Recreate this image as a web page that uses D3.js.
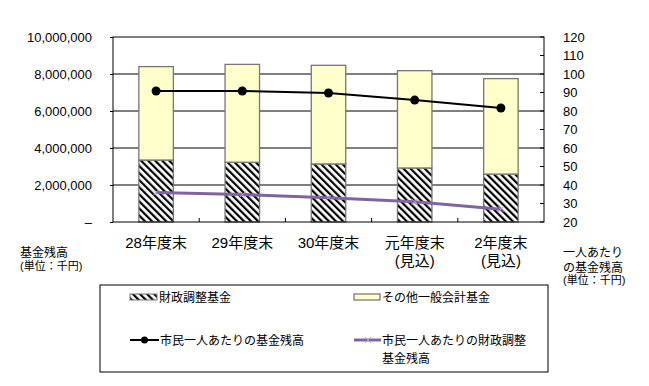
<!DOCTYPE html>
<html>
<head>
<meta charset="utf-8">
<script src="https://cdn.jsdelivr.net/npm/d3@7"></script>
<style>
  body { margin: 0; background: #fff; }
  svg { font-family: "Liberation Sans", "Noto Sans CJK JP", sans-serif; }
</style>
</head>
<body>
<svg width="649" height="386"></svg>
<script>
// data
var categories = ["28年度末", "29年度末", "30年度末", "元年度末|(見込)", "2年度末|(見込)"];
var adjustFund = [3350000, 3230000, 3140000, 2920000, 2590000];   // 財政調整基金
var otherFund = [5050000, 5290000, 5330000, 5260000, 5160000];    // その他一般会計基金
var perCapita = [90.8, 90.8, 89.7, 85.9, 81.6];                   // 市民一人あたりの基金残高
var perCapitaAdjust = [36.0, 34.8, 33.1, 31.0, 26.9];             // 市民一人あたりの財政調整基金残高
var leftTicks = [0, 2000000, 4000000, 6000000, 8000000, 10000000];
var rightTicks = [20, 30, 40, 50, 60, 70, 80, 90, 100, 110, 120];

var svg = d3.select("svg");
var pLeft = 113, pRight = 544, pTop = 37, pBottom = 222;

var defs = svg.append("defs");
var pat = defs.append("pattern").attr("id", "hatch")
  .attr("patternUnits", "userSpaceOnUse")
  .attr("width", 5).attr("height", 5)
  .attr("patternTransform", "rotate(-45)");
pat.append("rect").attr("width", 5).attr("height", 5).attr("fill", "#fff");
pat.append("rect").attr("width", 2.2).attr("height", 5).attr("fill", "#000");

var x = d3.scaleBand().domain(categories).range([pLeft, pRight]).paddingInner(0.6).paddingOuter(0.3);
var y = d3.scaleLinear().domain([0, 10000000]).range([pBottom, pTop]);
var y2 = d3.scaleLinear().domain([20, 120]).range([pBottom, pTop]);

// gridlines
svg.append("g").selectAll("line").data(leftTicks.slice(1, -1)).enter().append("line")
  .attr("x1", pLeft).attr("x2", pRight)
  .attr("y1", function(d) { return y(d); }).attr("y2", function(d) { return y(d); })
  .attr("stroke", "#000").attr("stroke-width", 1);

// bars
var bars = svg.append("g");
categories.forEach(function(c, i) {
  bars.append("rect")
    .attr("x", x(c)).attr("width", x.bandwidth())
    .attr("y", y(adjustFund[i])).attr("height", y(0) - y(adjustFund[i]))
    .attr("fill", "url(#hatch)").attr("stroke", "#777").attr("stroke-width", 1.3);
  bars.append("rect")
    .attr("x", x(c)).attr("width", x.bandwidth())
    .attr("y", y(adjustFund[i] + otherFund[i])).attr("height", y(adjustFund[i]) - y(adjustFund[i] + otherFund[i]))
    .attr("fill", "#ffffcc").attr("stroke", "#777").attr("stroke-width", 1.3);
});

// plot border
svg.append("rect").attr("x", pLeft).attr("y", pTop).attr("width", pRight - pLeft).attr("height", pBottom - pTop)
  .attr("fill", "none").attr("stroke", "#000").attr("stroke-width", 1);

// left axis
var yAxis = svg.append("g").attr("transform", "translate(" + pLeft + ",0)")
  .call(d3.axisLeft(y).tickValues(leftTicks).tickSize(3).tickPadding(18)
    .tickFormat(function(d) { return d === 0 ? "–" : d3.format(",")(d); }));
yAxis.select(".domain").remove();
yAxis.selectAll("text").attr("font-size", 13).attr("fill", "#000");

// right axis
var y2Axis = svg.append("g").attr("transform", "translate(" + pRight + ",0)")
  .call(d3.axisRight(y2).tickValues(rightTicks).tickSize(0).tickPadding(19));
y2Axis.select(".domain").remove();
y2Axis.selectAll("text").attr("font-size", 13).attr("fill", "#000");
svg.append("g").selectAll("line").data(rightTicks).enter().append("line")
  .attr("x1", pRight - 4).attr("x2", pRight)
  .attr("y1", function(d) { return y2(d); }).attr("y2", function(d) { return y2(d); })
  .attr("stroke", "#000");

// bottom category ticks (between categories)
svg.append("g").selectAll("line").data(categories.slice(1)).enter().append("line")
  .attr("x1", function(d) { return x(d) - x.step() * x.paddingInner() / 2; })
  .attr("x2", function(d) { return x(d) - x.step() * x.paddingInner() / 2; })
  .attr("y1", pBottom - 4).attr("y2", pBottom).attr("stroke", "#000");

// category labels
var cat = svg.append("g");
categories.forEach(function(c) {
  var t = cat.append("text").attr("x", x(c) + x.bandwidth() / 2).attr("y", 248)
    .attr("text-anchor", "middle").attr("font-size", 15).attr("fill", "#000");
  c.split("|").forEach(function(s, k) {
    t.append("tspan").attr("x", x(c) + x.bandwidth() / 2).attr("dy", k === 0 ? 0 : 18).text(s);
  });
});

// lines
var cx = function(d, i) { return x(categories[i]) + x.bandwidth() / 2; };
svg.append("path").datum(perCapitaAdjust)
  .attr("d", d3.line().x(cx).y(function(d) { return y2(d); }))
  .attr("fill", "none").attr("stroke", "#8064a2").attr("stroke-width", 3);
svg.append("g").selectAll("path").data(perCapitaAdjust).enter().append("path")
  .attr("d", function(d, i) {
    var px = cx(d, i), py = y2(d);
    return "M" + (px - 3) + "," + (py - 3) + "L" + (px + 3) + "," + (py + 3) + "M" + (px - 3) + "," + (py + 3) + "L" + (px + 3) + "," + (py - 3);
  })
  .attr("stroke", "#b3a2c7").attr("stroke-width", 1);

svg.append("path").datum(perCapita)
  .attr("d", d3.line().x(cx).y(function(d) { return y2(d); }))
  .attr("fill", "none").attr("stroke", "#000").attr("stroke-width", 2);
svg.append("g").selectAll("circle").data(perCapita).enter().append("circle")
  .attr("cx", cx).attr("cy", function(d) { return y2(d); }).attr("r", 4.5).attr("fill", "#000");

// axis titles
var lt = svg.append("text").attr("font-size", 12).attr("fill", "#000");
lt.append("tspan").attr("x", 20).attr("y", 257).text("基金残高");
lt.append("tspan").attr("x", 20).attr("y", 270).attr("font-size", 11).text("(単位：千円)");
var rt = svg.append("text").attr("font-size", 12).attr("fill", "#000");
rt.append("tspan").attr("x", 563).attr("y", 257).text("一人あたり");
rt.append("tspan").attr("x", 563).attr("y", 272).text("の基金残高");
rt.append("tspan").attr("x", 563).attr("y", 284).attr("font-size", 11).text("(単位：千円)");

// legend
var lg = svg.append("g");
lg.append("rect").attr("x", 100).attr("y", 285).attr("width", 448).attr("height", 87)
  .attr("fill", "#fff").attr("stroke", "#000");
lg.append("rect").attr("x", 130).attr("y", 294).attr("width", 27).attr("height", 6)
  .attr("fill", "url(#hatch)").attr("stroke", "#777");
lg.append("text").attr("x", 159).attr("y", 302).attr("font-size", 12).text("財政調整基金");
lg.append("rect").attr("x", 354).attr("y", 294).attr("width", 26).attr("height", 6)
  .attr("fill", "#ffffcc").attr("stroke", "#555");
lg.append("text").attr("x", 382).attr("y", 302).attr("font-size", 12).text("その他一般会計基金");
lg.append("line").attr("x1", 130).attr("x2", 159).attr("y1", 340).attr("y2", 340)
  .attr("stroke", "#000").attr("stroke-width", 2);
lg.append("circle").attr("cx", 144.5).attr("cy", 340).attr("r", 3.5).attr("fill", "#000");
lg.append("text").attr("x", 160).attr("y", 345).attr("font-size", 12).text("市民一人あたりの基金残高");
lg.append("line").attr("x1", 354).attr("x2", 381).attr("y1", 340).attr("y2", 340)
  .attr("stroke", "#8064a2").attr("stroke-width", 3);
lg.append("path").attr("d", "M365,337L371,343M365,343L371,337").attr("stroke", "#b3a2c7");
var lt2 = lg.append("text").attr("font-size", 12);
lt2.append("tspan").attr("x", 382).attr("y", 345).text("市民一人あたりの財政調整");
lt2.append("tspan").attr("x", 382).attr("y", 363).text("基金残高");
</script>
</body>
</html>
